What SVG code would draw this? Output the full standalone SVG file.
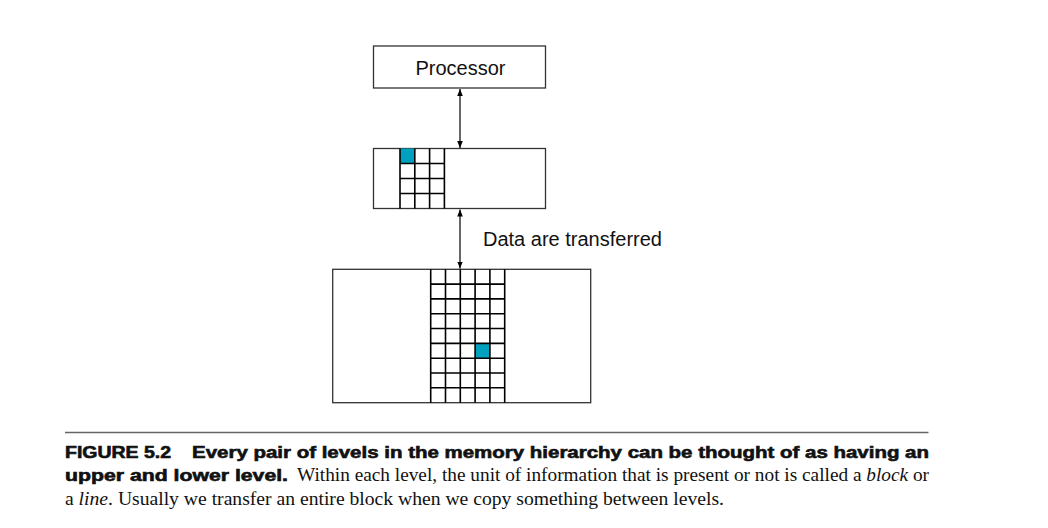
<svg xmlns="http://www.w3.org/2000/svg" width="1048" height="528" viewBox="0 0 1048 528">
<defs>
<style>
.box{fill:#fff;stroke:#333;stroke-width:1.3}
.grid{stroke:#000;stroke-width:1.6;fill:none}
.cell{fill:#00A0BE}
.lbl{font-family:"Liberation Sans",Arial,sans-serif;font-size:20px;fill:#111}
.conn{stroke:#000;stroke-width:1.2;fill:none;marker-start:url(#ah);marker-end:url(#ah)}
.cap-b{font-family:"Liberation Sans",Arial,sans-serif;font-weight:900;font-size:16px;fill:#111;stroke:#111;stroke-width:0.6}
.cap{font-family:"Liberation Serif","Times New Roman",serif;font-size:18px;fill:#111}
</style>
<marker id="ah" viewBox="0 0 10 10" refX="10" refY="5" markerWidth="7" markerHeight="8" orient="auto-start-reverse" markerUnits="userSpaceOnUse">
<path d="M0,1 L10,5 L0,9 Z" fill="#000"/>
</marker>
</defs>
<rect width="1048" height="528" fill="#fff"/>
<g id="processor">
<rect class="box" x="373.5" y="46" width="172" height="42"/>
<text class="lbl" x="460.5" y="74.5" text-anchor="middle">Processor</text>
</g>
<g id="upper-level">
<rect class="box" x="373.5" y="148.5" width="172" height="60"/>
<rect class="cell" x="400" y="148.5" width="14.8" height="15"/>
<path class="grid" d="M400,148.5V208.5M414.8,148.5V208.5M429.6,148.5V208.5M444.4,148.5V208.5M400,163.5H444.4M400,178.5H444.4M400,193.5H444.4"/>
</g>
<g id="lower-level">
<rect class="box" x="332.7" y="269.3" width="258" height="133.4"/>
<rect class="cell" x="475.1" y="343.4" width="14.8" height="14.8"/>
<path class="grid" d="M430.7,269.3V402.7M445.5,269.3V402.7M460.3,269.3V402.7M475.1,269.3V402.7M489.9,269.3V402.7M504.7,269.3V402.7M430.7,284.1H504.7M430.7,298.9H504.7M430.7,313.7H504.7M430.7,328.5H504.7M430.7,343.4H504.7M430.7,358.2H504.7M430.7,373H504.7M430.7,387.8H504.7"/>
</g>
<g id="connectors">
<line class="conn" x1="460" y1="89" x2="460" y2="148"/>
<line class="conn" x1="460" y1="209.5" x2="460" y2="268.5"/>
<text class="lbl" x="483" y="245.5">Data are transferred</text>
</g>
<g id="caption">
<line x1="65" y1="432.5" x2="928.5" y2="432.5" stroke="#666" stroke-width="1.6"/>
<text class="cap-b" x="65" y="457.5" textLength="106" lengthAdjust="spacingAndGlyphs">FIGURE 5.2</text>
<text class="cap-b" x="192" y="457.5" textLength="737" lengthAdjust="spacingAndGlyphs">Every pair of levels in the memory hierarchy can be thought of as having an</text>
<text class="cap-b" x="65" y="481" textLength="223" lengthAdjust="spacingAndGlyphs">upper and lower level.</text>
<text class="cap" x="297" y="481" textLength="632" lengthAdjust="spacingAndGlyphs">Within each level, the unit of information that is present or not is called a <tspan font-style="italic">block</tspan> or</text>
<text class="cap" x="65" y="504.5" textLength="659" lengthAdjust="spacingAndGlyphs">a <tspan font-style="italic">line</tspan>. Usually we transfer an entire block when we copy something between levels.</text>
</g>
</svg>
